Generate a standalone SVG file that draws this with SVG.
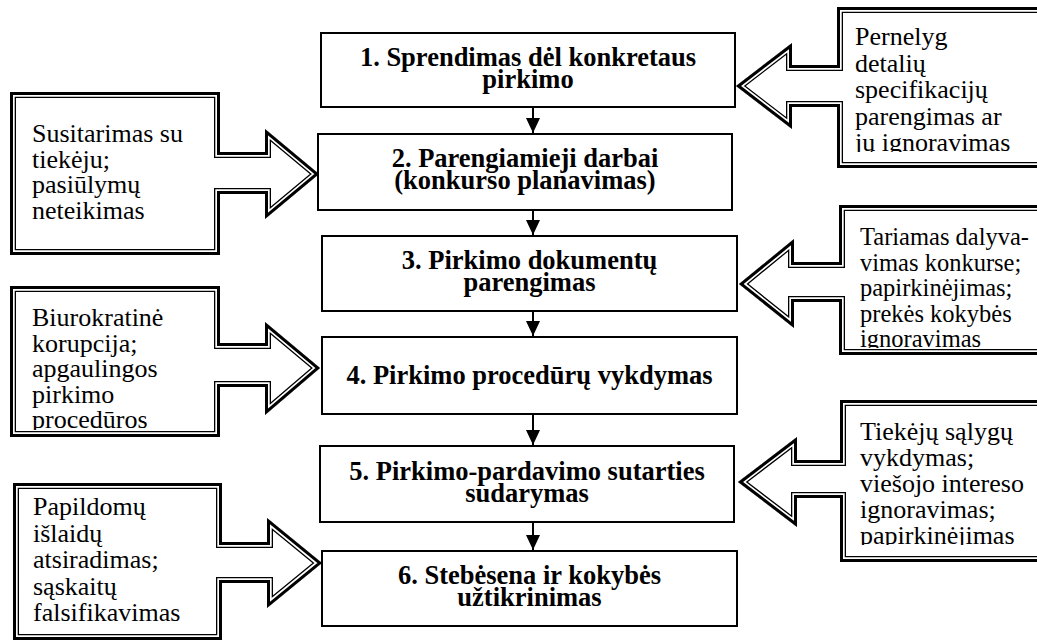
<svg xmlns="http://www.w3.org/2000/svg" xmlns:xlink="http://www.w3.org/1999/xlink" width="1037" height="643" viewBox="0 0 1037 643">
<style>
.bg{fill:#fff}
.box{fill:#fff;stroke:#000;stroke-width:2}
.bt{font-family:"Liberation Serif","Times New Roman",serif;font-weight:bold;font-size:26.5px;text-anchor:middle;fill:#000}
.ct{font-family:"Liberation Serif","Times New Roman",serif;font-size:26px;fill:#000}
.sm{font-size:24.5px}
.w{fill:#fff;stroke:none}
.s1{fill:none;stroke:#000;stroke-width:12;stroke-linejoin:miter;stroke-miterlimit:10}
.s2{fill:none;stroke:#fff;stroke-width:9.4;stroke-linejoin:miter;stroke-miterlimit:10}
.s3{fill:none;stroke:#000;stroke-width:6;stroke-linejoin:miter;stroke-miterlimit:10}
.con{fill:none;stroke:#000;stroke-width:2}
</style>
<defs>
<path id="pL1" d="M10,92 H220 V152 H265 V129 L319,174 L265,219 V194 H220 V255 H10 Z"/>
<path id="pL2" d="M10,286 H220 V343 H265 V322 L320,368 L265,415 V387 H220 V437 H10 Z"/>
<path id="pL3" d="M13,483 H222 V542 H267 V518 L322,563 L267,608 V583 H222 V640 H13 Z"/>
<path id="pR1" d="M1050,7 H837 V65 H792 V43 L736,86 L792,129 V107 H837 V168 H1050 Z"/>
<path id="pR2" d="M1050,205 H839 V262 H794 V239 L739,284 L794,328 V302 H839 V355 H1050 Z"/>
<path id="pR3" d="M1050,400 H840 V460 H797 V437 L738,482 L797,527 V498 H840 V562 H1050 Z"/>
<clipPath id="cL1"><use xlink:href="#pL1"/></clipPath>
<clipPath id="cL2"><use xlink:href="#pL2"/></clipPath>
<clipPath id="cL3"><use xlink:href="#pL3"/></clipPath>
<clipPath id="cR1"><use xlink:href="#pR1"/></clipPath>
<clipPath id="cR2"><use xlink:href="#pR2"/></clipPath>
<clipPath id="cR3"><use xlink:href="#pR3"/></clipPath>
<clipPath id="tL2"><rect x="16" y="292" width="200" height="138"/></clipPath>
<clipPath id="tR1"><rect x="843" y="13" width="200" height="139"/></clipPath>
<clipPath id="tR2"><rect x="845" y="211" width="200" height="137"/></clipPath>
<clipPath id="tR3"><rect x="846" y="406" width="200" height="139"/></clipPath>
<marker id="ah" markerUnits="userSpaceOnUse" markerWidth="15" markerHeight="15" refX="15" refY="7" orient="auto" viewBox="0 0 15 14">
<path d="M0,0 L15,7 L0,14 Z" fill="#000"/>
</marker>
</defs>
<rect class="bg" x="0" y="0" width="1037" height="643"/>

<g id="risk-L1">
<g clip-path="url(#cL1)"><use xlink:href="#pL1" class="w"/><use xlink:href="#pL1" class="s1"/><use xlink:href="#pL1" class="s2"/><use xlink:href="#pL1" class="s3"/></g>
<text class="ct"><tspan x="32" y="142">Susitarimas su</tspan><tspan x="32" y="167.5">tiekėju;</tspan><tspan x="32" y="193">pasiūlymų</tspan><tspan x="32" y="218.5">neteikimas</tspan></text>
</g>
<g id="risk-L2">
<g clip-path="url(#cL2)"><use xlink:href="#pL2" class="w"/><use xlink:href="#pL2" class="s1"/><use xlink:href="#pL2" class="s2"/><use xlink:href="#pL2" class="s3"/></g>
<text class="ct" clip-path="url(#tL2)"><tspan x="32" y="326">Biurokratinė</tspan><tspan x="32" y="351.5">korupcija;</tspan><tspan x="32" y="377">apgaulingos</tspan><tspan x="32" y="402.5">pirkimo</tspan><tspan x="32" y="428">procedūros</tspan></text>
</g>
<g id="risk-L3">
<g clip-path="url(#cL3)"><use xlink:href="#pL3" class="w"/><use xlink:href="#pL3" class="s1"/><use xlink:href="#pL3" class="s2"/><use xlink:href="#pL3" class="s3"/></g>
<text class="ct"><tspan x="33" y="515">Papildomų</tspan><tspan x="33" y="541.5">išlaidų</tspan><tspan x="33" y="568">atsiradimas;</tspan><tspan x="33" y="594.5">sąskaitų</tspan><tspan x="33" y="621">falsifikavimas</tspan></text>
</g>
<g id="risk-R1">
<g clip-path="url(#cR1)"><use xlink:href="#pR1" class="w"/><use xlink:href="#pR1" class="s1"/><use xlink:href="#pR1" class="s2"/><use xlink:href="#pR1" class="s3"/></g>
<text class="ct" clip-path="url(#tR1)"><tspan x="855" y="45">Pernelyg</tspan><tspan x="855" y="71.5">detalių</tspan><tspan x="855" y="98">specifikacijų</tspan><tspan x="855" y="124.5">parengimas ar</tspan><tspan x="855" y="151">jų ignoravimas</tspan></text>
</g>
<g id="risk-R2">
<g clip-path="url(#cR2)"><use xlink:href="#pR2" class="w"/><use xlink:href="#pR2" class="s1"/><use xlink:href="#pR2" class="s2"/><use xlink:href="#pR2" class="s3"/></g>
<text class="ct sm" clip-path="url(#tR2)"><tspan x="860" y="245">Tariamas dalyva-</tspan><tspan x="860" y="270.5">vimas konkurse;</tspan><tspan x="860" y="296">papirkinėjimas;</tspan><tspan x="860" y="321.5">prekės kokybės</tspan><tspan x="860" y="347">ignoravimas</tspan></text>
</g>
<g id="risk-R3">
<g clip-path="url(#cR3)"><use xlink:href="#pR3" class="w"/><use xlink:href="#pR3" class="s1"/><use xlink:href="#pR3" class="s2"/><use xlink:href="#pR3" class="s3"/></g>
<text class="ct" clip-path="url(#tR3)"><tspan x="860" y="440">Tiekėjų sąlygų</tspan><tspan x="860" y="466">vykdymas;</tspan><tspan x="860" y="492">viešojo intereso</tspan><tspan x="860" y="518">ignoravimas;</tspan><tspan x="860" y="544">papirkinėjimas</tspan></text>
</g>

<g id="connectors">
<line class="con" x1="533" y1="107" x2="533" y2="133" marker-end="url(#ah)"/>
<line class="con" x1="533" y1="210" x2="533" y2="235" marker-end="url(#ah)"/>
<line class="con" x1="533" y1="311" x2="533" y2="336" marker-end="url(#ah)"/>
<line class="con" x1="533" y1="414" x2="533" y2="445" marker-end="url(#ah)"/>
<line class="con" x1="533" y1="522" x2="533" y2="550" marker-end="url(#ah)"/>
</g>

<g id="step-1"><rect class="box" x="321" y="33" width="414" height="74"/><text class="bt"><tspan x="528" y="66">1. Sprendimas dėl konkretaus</tspan><tspan x="528" y="88">pirkimo</tspan></text></g>
<g id="step-2"><rect class="box" x="318" y="134" width="414" height="76"/><text class="bt"><tspan x="525" y="167">2. Parengiamieji darbai</tspan><tspan x="525" y="189">(konkurso planavimas)</tspan></text></g>
<g id="step-3"><rect class="box" x="322" y="236" width="415" height="75"/><text class="bt"><tspan x="529.5" y="269">3. Pirkimo dokumentų</tspan><tspan x="529.5" y="291">parengimas</tspan></text></g>
<g id="step-4"><rect class="box" x="322" y="337" width="415" height="77"/><text class="bt"><tspan x="529.5" y="384">4. Pirkimo procedūrų vykdymas</tspan></text></g>
<g id="step-5"><rect class="box" x="320" y="446" width="414" height="76"/><text class="bt"><tspan x="527" y="480">5. Pirkimo-pardavimo sutarties</tspan><tspan x="527" y="502">sudarymas</tspan></text></g>
<g id="step-6"><rect class="box" x="322" y="551" width="415" height="75"/><text class="bt"><tspan x="529.5" y="584">6. Stebėsena ir kokybės</tspan><tspan x="529.5" y="606">užtikrinimas</tspan></text></g>
</svg>
